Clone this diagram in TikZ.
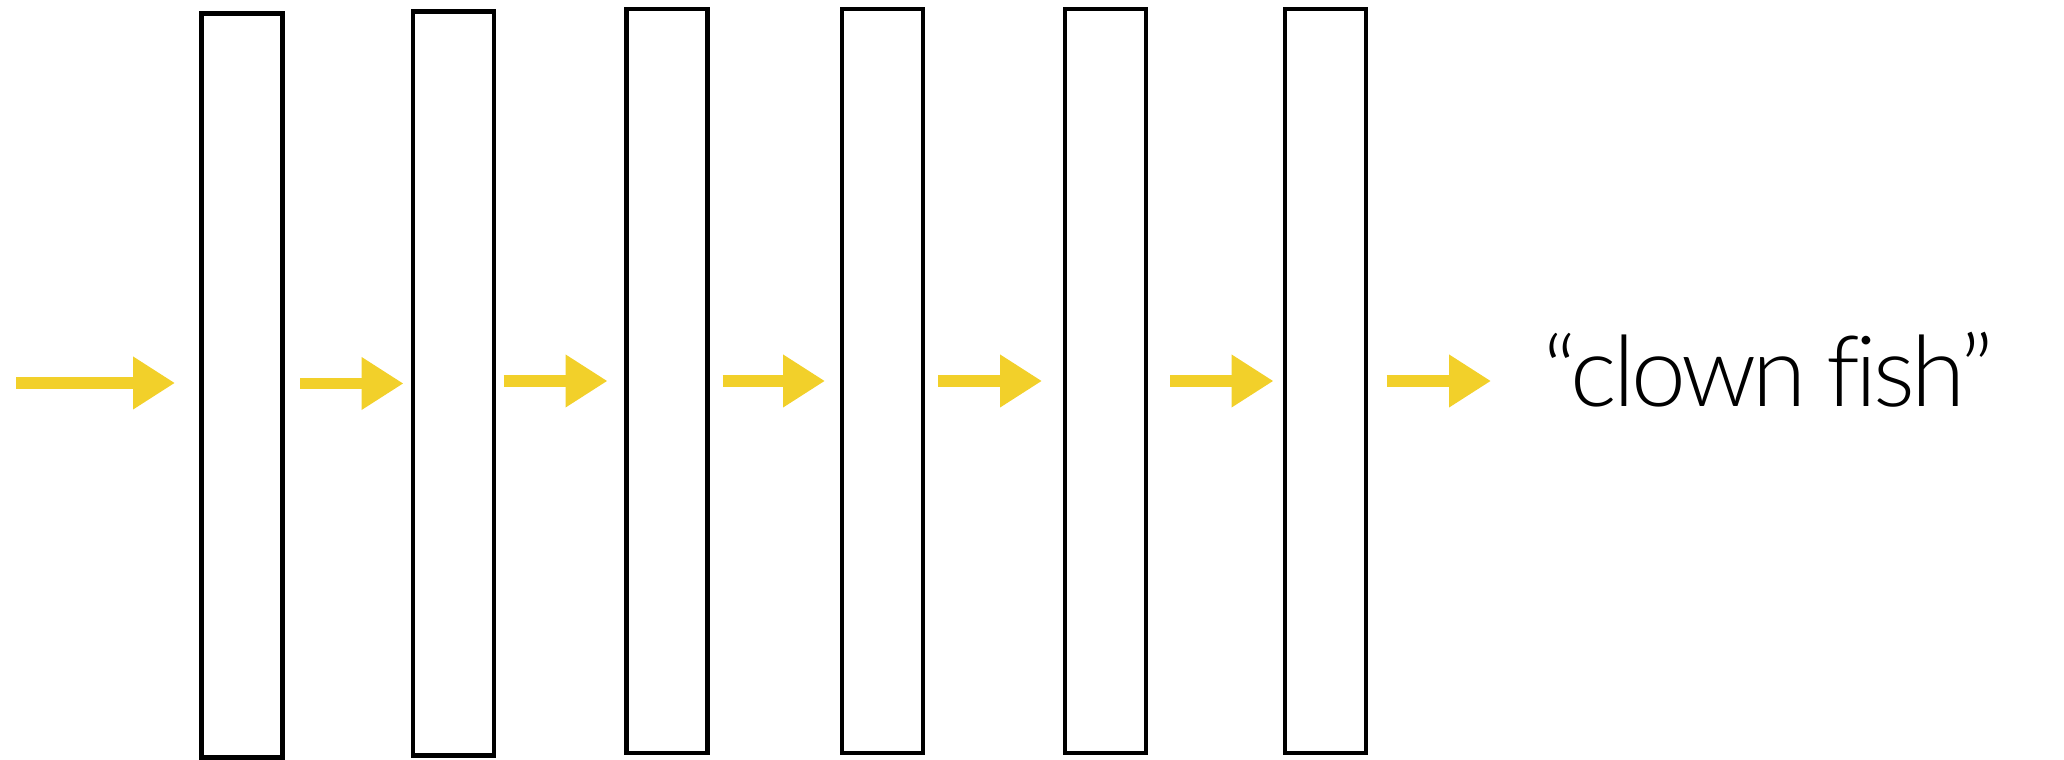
\documentclass[tikz,border=0pt]{standalone}
\usepackage{fontspec}
\newfontfamily\lightsans[Ligatures=NoCommon, LetterSpace=-4, WordSpace=0.85]{Lato Light}
\usetikzlibrary{arrows.meta}
\definecolor{arrowyellow}{RGB}{242,208,42}
\tikzset{
  layer/.style={draw, line width=1.4pt, rectangle, inner sep=0pt, outer sep=0pt,
    minimum width=0.81cm, minimum height=7.44cm},
  flow/.style={draw=arrowyellow, line width=3.4pt,
    -{Triangle[length=4.2mm, width=5mm, fill=arrowyellow]}},
}
\begin{document}
\begin{tikzpicture}
    \useasboundingbox (0,0) rectangle (20.64,7.6);

    \node (layer1) [layer] at (2.42, 3.745) {};
    \node (layer2) [layer] at (4.535, 3.765) {};
    \node (layer3) [layer] at (6.67, 3.79) {};
    \node (layer4) [layer] at (8.825, 3.79) {};
    \node (layer5) [layer] at (11.055, 3.79) {};
    \node (layer6) [layer] at (13.255, 3.79) {};

    \coordinate (input) at (0.16, 3.77);
    \node (label) [anchor=base west, inner sep=0pt] at (15.43, 3.53)
        {\lightsans\fontsize{28}{34}\selectfont “clown fish”};

    \draw[flow, shorten >=0.265cm] (input) -- (input -| layer1.west);
    \draw[flow, shorten <=0.175cm, shorten >=0.095cm] (layer1.east |- layer2.west) -- (layer2.west);
    \draw[flow, shorten <=0.095cm, shorten >=0.19cm] (layer2.east |- layer3.west) -- (layer3.west);
    \draw[flow, shorten <=0.15cm, shorten >=0.17cm] (layer3.east) -- (layer4.west);
    \draw[flow, shorten <=0.15cm, shorten >=0.23cm] (layer4.east) -- (layer5.west);
    \draw[flow, shorten <=0.24cm, shorten >=0.115cm] (layer5.east) -- (layer6.west);
    \draw[flow, shorten <=0.205cm, shorten >=0.52cm] (layer6.east) -- (layer6.east -| label.west);
\end{tikzpicture}
\end{document}
